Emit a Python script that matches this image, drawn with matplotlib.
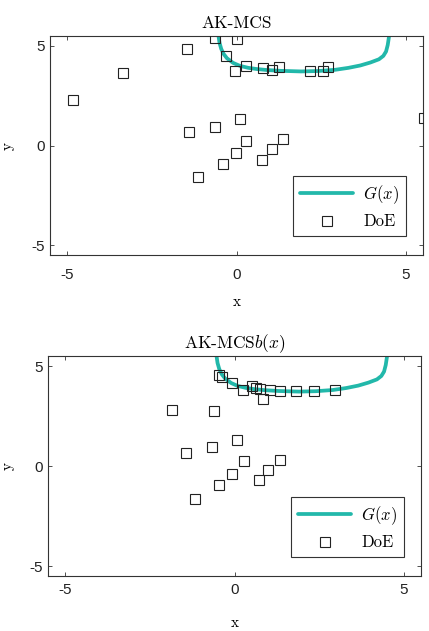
import numpy as np
import matplotlib
matplotlib.use("Agg")
import matplotlib.pyplot as plt

plt.rcParams["mathtext.fontset"] = "cm"
plt.rcParams["axes.unicode_minus"] = False

# limit state curve G(x)=0
g_x = [-0.53, -0.5, -0.45, -0.38, -0.28, -0.1, 0.1, 0.35, 0.6, 0.9, 1.3, 1.9,
       2.4, 2.9, 3.3, 3.65, 3.95, 4.2, 4.33, 4.41, 4.46, 4.5]
g_y = [5.5, 5.15, 4.85, 4.6, 4.38, 4.15, 4.0, 3.9, 3.84, 3.79, 3.75, 3.72,
       3.74, 3.8, 3.9, 4.02, 4.17, 4.33, 4.5, 4.72, 5.05, 5.5]

# design of experiments, AK-MCS
doe1_x = [-0.63, 0.01, -1.46, -3.35, -4.81, -0.31, 0.27, -0.04, 0.79, 1.04, 1.24, 2.17,
          2.54, 2.71, 5.52, 0.11, -0.63, -1.41, 0.28, 1.38, -0.01, 1.04, 0.76, -0.4, -1.14]
doe1_y = [5.4, 5.37, 4.83, 3.62, 2.28, 4.48, 3.98, 3.75, 3.87, 3.78, 3.92, 3.73,
          3.73, 3.92, 1.4, 1.32, 0.95, 0.67, 0.25, 0.32, -0.38, -0.18, -0.72, -0.93, -1.6]

# design of experiments, AK-MCSb(x)
doe2_x = [-0.45, -0.36, -0.08, 0.24, 0.53, 0.63, 0.76, 0.85, 1.05, 1.33, 1.82, 2.33,
          2.96, -1.83, -0.6, 0.07, -0.65, -1.44, 0.27, 1.35, -0.06, 1.0, 0.73, -0.45, -1.16]
doe2_y = [4.56, 4.45, 4.15, 3.82, 3.98, 3.92, 3.84, 3.37, 3.78, 3.76, 3.74, 3.74,
          3.78, 2.78, 2.73, 1.28, 0.95, 0.67, 0.23, 0.28, -0.38, -0.22, -0.72, -0.97, -1.67]

W, H = 429, 631
fig = plt.figure(figsize=(W / 100, H / 100), dpi=100)

teal = "#22b8aa"

panels = [
    ((50, 36, 423, 255), "AK-MCS", doe1_x, doe1_y, 9),
    ((48, 356, 421, 576), r"AK-MCS$b(x)$", doe2_x, doe2_y, 5),
]

for (l, t, r, b), title, dx, dy, tpad in panels:
    ax = fig.add_axes([l / W, 1 - b / H, (r - l) / W, (b - t) / H])
    ax.plot(g_x, g_y, color=teal, lw=2.7, label=r"$G(x)$", zorder=2,
            solid_capstyle="round", solid_joinstyle="round")
    ax.plot(dx, dy, "s", ms=7.5, mfc="none", mec="#222222", mew=0.8,
            label="DoE", zorder=3)
    ax.set_xlim(-5.5, 5.5)
    ax.set_ylim(-5.5, 5.5)
    ax.set_xticks([-5, 0, 5])
    ax.set_yticks([-5, 0, 5])
    ax.tick_params(direction="in", length=3, width=0.6, top=True, right=True,
                   colors="#333333", labelcolor="#222222")
    ax.tick_params(axis="x", pad=tpad)
    for lab in ax.get_xticklabels() + ax.get_yticklabels():
        lab.set_fontfamily("Liberation Sans")
        lab.set_fontsize(11)
    for s in ax.spines.values():
        s.set_color("#333333")
        s.set_linewidth(0.8)
    ax.set_title(title, fontfamily="cmr10", fontsize=12.5, pad=6)
    ax.set_xlabel("x", fontfamily="cmr10", fontsize=11)
    ax.set_ylabel("y", fontfamily="cmr10", fontsize=11)
    ax.xaxis.set_label_coords(0.5, -40 / (b - t))
    ax.yaxis.set_label_coords(-(l - 15) / (r - l), 0.5)
    leg = ax.legend(loc="lower right",
                    bbox_to_anchor=((r - l - 17) / (r - l), 19 / (b - t)),
                    borderaxespad=0, fancybox=False, edgecolor="#333333",
                    framealpha=1, handlelength=3.2, handletextpad=0.6,
                    prop={"family": "cmr10", "size": 12})
    leg.get_frame().set_linewidth(0.8)

fig.savefig("out.png", dpi=100)
